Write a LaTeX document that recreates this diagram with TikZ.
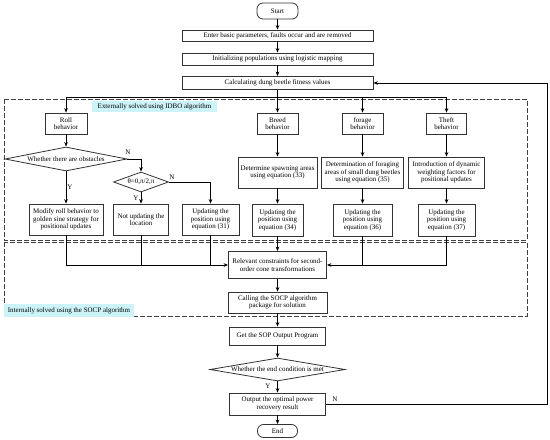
\documentclass[tikz,border=0pt]{standalone}
\usepackage{fontspec}
\setmainfont{Liberation Serif}
\usetikzlibrary{arrows.meta,shapes.geometric}
\definecolor{lblcyan}{RGB}{204,244,248}
\newcommand{\dtext}[1]{\smash{\makebox[0pt]{#1}}}
\begin{document}
\begin{tikzpicture}[x=1bp,y=-1bp,
  font=\fontsize{7}{7.4}\selectfont,
  box/.style={draw=black!80, line width=0.8bp, align=center, inner sep=0pt, fill=white},
  term/.style={box, rounded corners=6bp},
  dec/.style={draw=black!80, line width=0.8bp, diamond, inner sep=0pt, fill=white},
  arr/.style={-{Stealth[length=4.5bp,width=3.6bp]}, line width=0.7bp},
  ln/.style={line width=0.7bp},
  frame/.style={dash pattern=on 5bp off 2bp, line width=0.8bp, draw=black!75},
  lbl/.style={fill=lblcyan, inner sep=0pt}]
\useasboundingbox (0,0) rectangle (550,440);

% dashed frames
\draw[frame] (4,99) rectangle (527,240);
\draw[frame] (4,242) rectangle (527,316);
\node[lbl, minimum width=125bp, minimum height=11bp] (extlbl) at (154.5,106.5) {Externally solved using IDBO algorithm};
\node[lbl, minimum width=130bp, minimum height=13bp] (intlbl) at (69,310.5) {Internally solved using the SOCP algorithm};

% main column
\node[term, minimum width=41bp, minimum height=16bp] (start) at (277.5,11) {Start};
\node[box, minimum width=191bp, minimum height=11bp] (enter) at (277.5,35.5) {Enter basic parameters, faults occur and are removed};
\node[box, minimum width=191bp, minimum height=12bp] (init) at (277.5,59) {Initializing populations using logistic mapping};
\node[box, minimum width=191bp, minimum height=13bp] (calc) at (277.5,83) {Calculating dung beetle fitness values};

% behaviors
\node[box, minimum width=42bp, minimum height=21bp] (roll) at (66,123.5) {Roll\\behavior};
\node[box, minimum width=41bp, minimum height=21bp] (breed) at (277.5,123.5) {Breed\\behavior};
\node[box, minimum width=41bp, minimum height=21bp] (forage) at (362.5,123.5) {forage\\behavior};
\node[box, minimum width=40bp, minimum height=21bp] (theft) at (446.5,123.5) {Theft\\behavior};

% roll branch
\node[dec, minimum width=122bp, minimum height=24bp] (obst) at (66,159) {};
\node[inner sep=0pt] (obsttxt) at (obst.center) {Whether there are obstacles};
\node[dec, minimum width=55bp, minimum height=20bp] (theta) at (141,182) {};
\node[inner sep=0pt] (thetatxt) at (theta.center) {θ=0,π/2,π};
\node[box, minimum width=74bp, minimum height=31bp] (modify) at (66,219.5) {Modify roll behavior to\\golden sine strategy for\\positional updates};
\node[box, minimum width=55bp, minimum height=31bp] (notupd) at (141,219.5) {Not updating the\\location};
\node[box, minimum width=57bp, minimum height=31bp] (upd31) at (210.5,219.5) {Updating the\\position using\\equation (31)};

% other branches
\node[box, minimum width=79bp, minimum height=31bp] (spawn) at (277.5,172.5) {Determine spawning areas\\using equation (33)};
\node[box, minimum width=82bp, minimum height=31bp] (forarea) at (362.5,172.5) {Determination of foraging\\areas of small dung beetles\\using equation (35)};
\node[box, minimum width=76bp, minimum height=31bp] (intro) at (446.5,172.5) {Introduction of dynamic\\weighting factors for\\positional updates};
\node[box, minimum width=51bp, minimum height=32bp] (upd34) at (277.5,220) {Updating the\\position using\\equation (34)};
\node[box, minimum width=59bp, minimum height=32bp] (upd36) at (362.5,220) {Updating the\\position using\\equation (36)};
\node[box, minimum width=57bp, minimum height=32bp] (upd37) at (446.5,220) {Updating the\\position using\\equation (37)};

% SOCP part
\node[box, minimum width=98bp, minimum height=27bp] (relevant) at (277.5,265) {Relevant constraints for second-\\order cone transformations};
\node[box, minimum width=99bp, minimum height=21bp] (calling) at (277.5,302.5) {Calling the SOCP algorithm\\package for solution};
\node[box, minimum width=96bp, minimum height=18bp] (get) at (277.5,336) {Get the SOP Output Program};
\node[dec, minimum width=135bp, minimum height=23bp] (enddec) at (277.5,369.5) {};
\node[inner sep=0pt] (enddectxt) at (enddec.center) {Whether the end condition is met};
\node[box, minimum width=96bp, minimum height=22bp] (output) at (277.5,404) {Output the optimal power\\recovery result};
\node[term, minimum width=40bp, minimum height=13bp] (end) at (277.5,431) {End};

% connectors
\draw[arr] (start) -- (enter);
\draw[arr] (enter) -- (init);
\draw[arr] (init) -- (calc);
\coordinate (bus) at (277.5,97);
\draw[ln] (calc.south) -- (bus);
\draw[arr] (bus) -| (roll.north);
\draw[arr] (bus) -- (breed.north);
\draw[arr] (bus) -| (forage.north);
\draw[arr] (bus) -| (theft.north);

\draw[arr] (roll) -- (obst);
\draw[arr] (obst) -- (modify);
\draw[arr] (obst.east) -| (theta.north);
\draw[arr] (theta) -- (notupd);
\draw[arr] (theta.east) -| (upd31.north);

\draw[arr] (breed) -- (spawn);
\draw[arr] (forage) -- (forarea);
\draw[arr] (theft) -- (intro);
\draw[arr] (spawn) -- (upd34);
\draw[arr] (forarea) -- (upd36);
\draw[arr] (intro) -- (upd37);

\draw[arr] (modify.south) |- (relevant.west);
\draw[ln] (notupd.south) -- (notupd.south |- relevant.west);
\draw[ln] (upd31.south) -- (upd31.south |- relevant.west);
\draw[arr] (upd37.south) |- (relevant.east);
\draw[ln] (upd36.south) -- (upd36.south |- relevant.east);
\draw[arr] (upd34) -- (relevant);
\draw[arr] (relevant) -- (calling);
\draw[arr] (calling) -- (get);
\draw[arr] (get) -- (enddec);
\draw[arr] (enddec) -- (output);
\draw[arr] (output) -- (end);
\coordinate (loopc) at (547,83);
\draw[arr] (output.east) -| (loopc) -- (calc.east);

% Y/N labels
\node[inner sep=0pt] (n1) at (128,152) {N};
\node[inner sep=0pt] (y1) at (70,187) {Y};
\node[inner sep=0pt] (n2) at (172,177) {N};
\node[inner sep=0pt] (y2) at (136,198) {Y};
\node[inner sep=0pt] (y3) at (268,386) {Y};
\node[inner sep=0pt] (n3) at (335,399) {N};
\end{tikzpicture}
\end{document}
